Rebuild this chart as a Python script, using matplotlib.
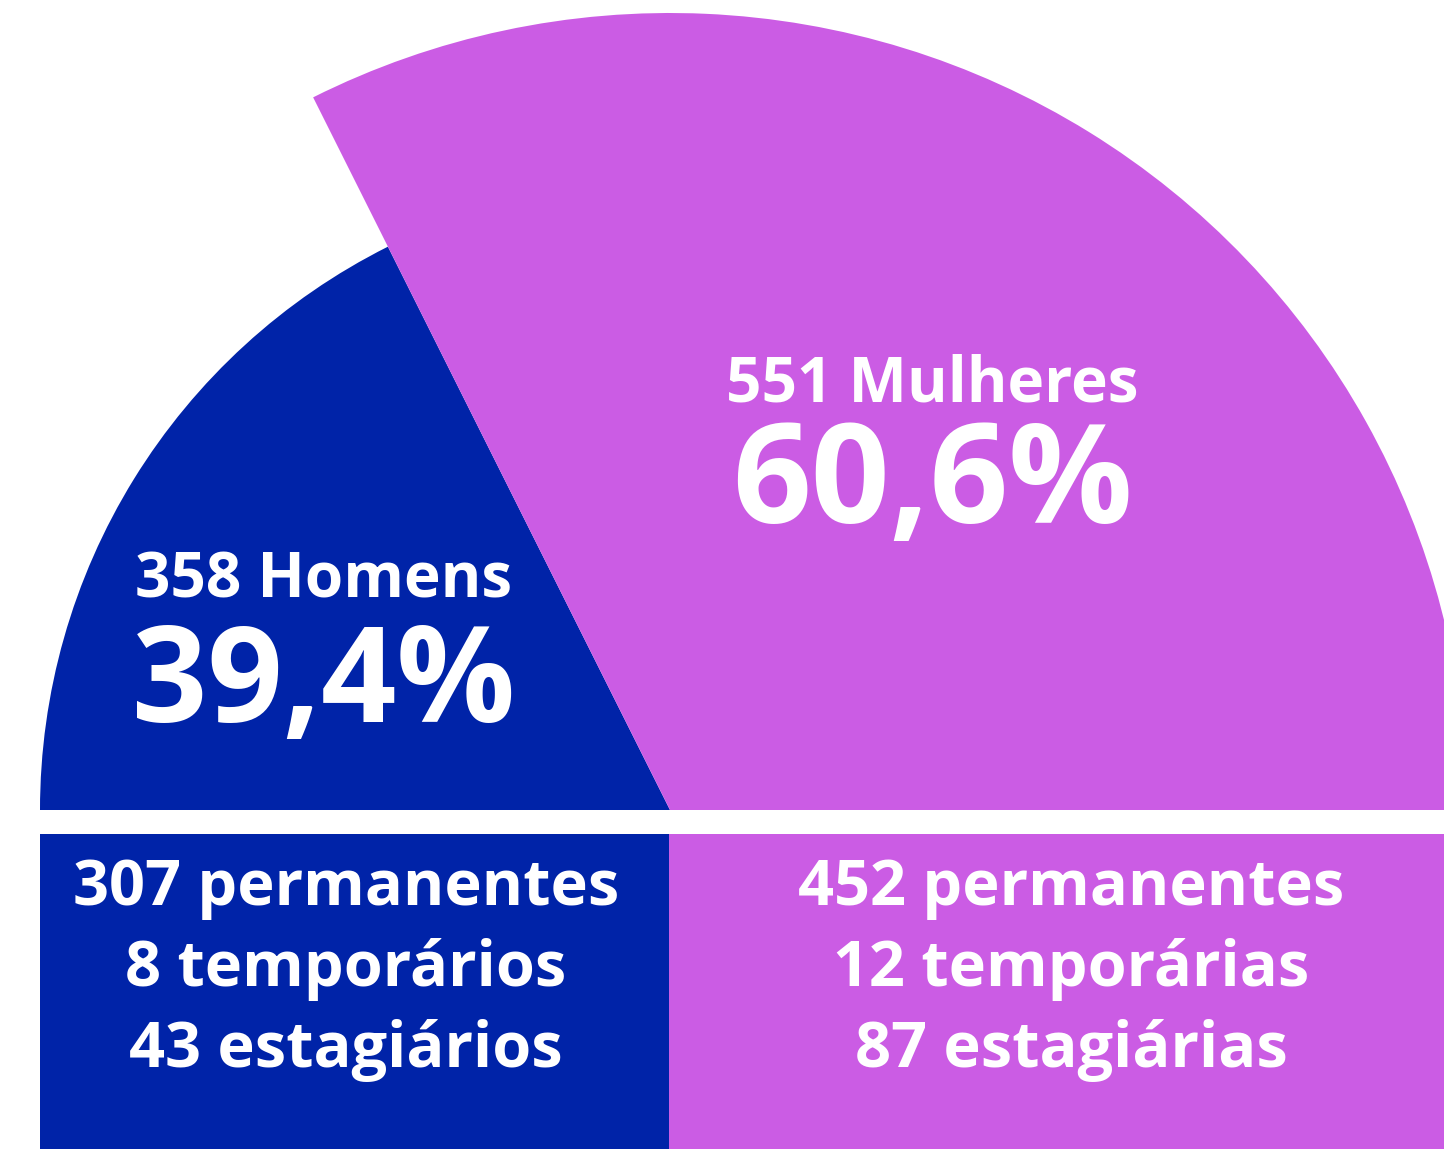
import matplotlib.pyplot as plt
from matplotlib.patches import Wedge, Rectangle

# data
groups = ["Homens", "Mulheres"]
totals = [358, 551]
permanentes = [307, 452]
temporarios = [8, 12]
estagiarios = [43, 87]
tipo_labels = [
    ["permanentes", "temporários", "estagiários"],
    ["permanentes", "temporárias", "estagiárias"],
]

BLUE = "#0023A8"
PURPLE = "#CB5CE4"
colors = [BLUE, PURPLE]

W, H = 1444, 1149
FONT = "Open Sans"


def px(size):
    # pixel height -> points at dpi 100
    return size * 0.72


def y(v):
    # image row -> data y (y axis points up)
    return H - v


fig = plt.figure(figsize=(W / 100, H / 100), dpi=100)
ax = fig.add_axes([0, 0, 1, 1])
ax.set_xlim(0, W)
ax.set_ylim(0, H)
ax.axis("off")

total = sum(totals)
pcts = [t / total * 100 for t in totals]

# half "pie": the split is not proportional in the original, kept as drawn
cx, cy = 670, y(810)
split = 116.6
radii = [630, 797]
ax.add_patch(Wedge((cx, cy), radii[0], split, 180, facecolor=colors[0], lw=0))
ax.add_patch(Wedge((cx, cy), radii[1], 0, split, facecolor=colors[1], lw=0))

# bottom boxes
ax.add_patch(Rectangle((40, 0), 629, y(834), facecolor=colors[0], lw=0))
ax.add_patch(Rectangle((669, 0), W - 669, y(834), facecolor=colors[1], lw=0))

# wedge labels
head_pos = [(324, 598, 722, 132), (932, 402, 523, 138)]
for i, (hx, y1, y2, big) in enumerate(head_pos):
    ax.text(hx, y(y1), f"{totals[i]} {groups[i]}", ha="center", va="baseline",
            color="white", fontsize=px(62), fontweight="bold", family=FONT)
    pct = f"{pcts[i]:.1f}%".replace(".", ",")
    ax.text(hx, y(y2), pct, ha="center", va="baseline",
            color="white", fontsize=px(big), fontweight="bold", family=FONT)

# breakdown labels
box_x = [346, 1071]
rows = [905, 986, 1067]
for i in range(2):
    vals = [permanentes[i], temporarios[i], estagiarios[i]]
    for r, v, lab in zip(rows, vals, tipo_labels[i]):
        ax.text(box_x[i], y(r), f"{v} {lab}", ha="center", va="baseline",
                color="white", fontsize=px(63), fontweight="bold", family=FONT)

fig.savefig("out.png", dpi=100)
